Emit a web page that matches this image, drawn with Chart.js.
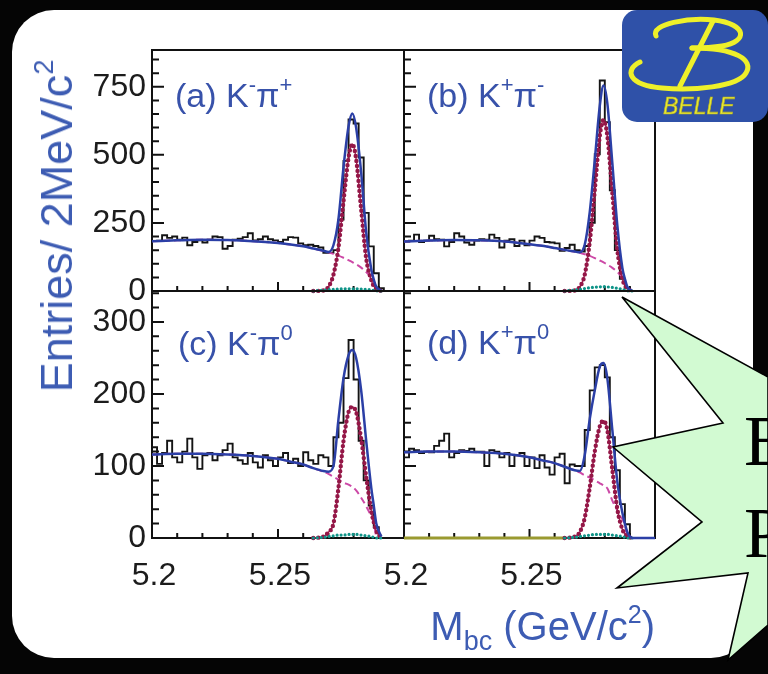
<!DOCTYPE html>
<html><head><meta charset="utf-8">
<script src="https://cdn.jsdelivr.net/npm/chart.js@4.4.1/dist/chart.umd.min.js"></script>
<style>
html,body{margin:0;padding:0;background:#050505;width:768px;height:674px;overflow:hidden;position:relative;}
#box{position:absolute;left:12px;top:10px;width:741px;height:648px;background:#fff;border-radius:42px;}
canvas{position:absolute;left:0;top:0;}
.lbl{position:absolute;font-family:'Liberation Sans',Arial,sans-serif;color:#3852aa;white-space:nowrap;font-size:34px;line-height:34px;}
.lbl .s{font-size:22px;position:relative;top:-15px;}
#ytitle{position:absolute;left:60px;top:226px;transform:translate(-50%,-50%) rotate(-90deg);font-family:'Liberation Sans',Arial,sans-serif;font-size:45px;line-height:45px;color:#3d5cb3;white-space:nowrap;}
#ytitle .s{font-size:27px;position:relative;top:-19px;}
#xtitle{position:absolute;right:113px;top:606px;font-family:'Liberation Sans',Arial,sans-serif;font-size:40px;line-height:40px;color:#3d5cb3;white-space:nowrap;}
#xtitle .sub{font-size:27px;position:relative;top:10px;}
#xtitle .s{font-size:25px;position:relative;top:-17px;}
#over{position:absolute;left:0;top:0;}
.big{position:absolute;left:744px;font-family:'Liberation Serif','DejaVu Serif',serif;font-size:72px;line-height:72px;color:#000;}
</style></head>
<body>
<div id="box"></div>
<canvas id="pa" width="768" height="674" style="width:768px;height:674px"></canvas>
<canvas id="pb" width="768" height="674" style="width:768px;height:674px"></canvas>
<canvas id="pc" width="768" height="674" style="width:768px;height:674px"></canvas>
<canvas id="pd" width="768" height="674" style="width:768px;height:674px"></canvas>

<div class="lbl" style="left:175px;top:78px">(a) K<span class="s">-</span>π<span class="s">+</span></div>
<div class="lbl" style="left:427px;top:78px">(b) K<span class="s">+</span>π<span class="s">-</span></div>
<div class="lbl" style="left:178px;top:326px">(c) K<span class="s">-</span>π<span class="s">0</span></div>
<div class="lbl" style="left:427px;top:325px">(d) K<span class="s">+</span>π<span class="s">0</span></div>
<div id="ytitle">Entries/ 2MeV/c<span class="s">2</span></div>
<div id="xtitle">M<span class="sub">bc</span> (GeV/c<span class="s">2</span>)</div>

<svg id="over" width="768" height="674" viewBox="0 0 768 674">
  <rect x="622" y="10" width="146" height="112" rx="15" ry="15" fill="#2f51a8"/>
  <g fill="none" stroke="#eef02a" stroke-width="5" stroke-linecap="round">
    <path d="M656 36 C650 24 690 17 714 20 C748 24 748 42 722 46 C710 48 700 48 692 48"/>
    <path d="M692 48 C736 48 754 60 746 73 C738 87 692 91 662 88 C628 85 624 70 640 62"/>
    <path d="M713 21 L680 86"/>
  </g>
  <text x="663" y="114" font-family="Liberation Sans, Arial, sans-serif" font-style="italic" font-size="23" fill="#e6e832" stroke="#b8b020" stroke-width="0.6">BELLE</text>
  <polygon points="622,297 723,423 613,447 702,522 617,588 748,573 728,660 768,625 768,377" fill="#d2fad2" stroke="#000" stroke-width="1.6" stroke-linejoin="miter"/>
</svg>
<div class="big" style="top:405px">B</div>
<div class="big" style="top:497px">P</div>

<script>
// ---------- data ----------
const binLowEdges = [5.200,5.202,5.204,5.206,5.208,5.210,5.212,5.214,5.216,5.218,5.220,5.222,5.224,5.226,5.228,5.230,5.232,5.234,5.236,5.238,5.240,5.242,5.244,5.246,5.248,5.250,5.252,5.254,5.256,5.258,5.260,5.262,5.264,5.266,5.268,5.270,5.272,5.274,5.276,5.278,5.280,5.282,5.284,5.286,5.288,5.290,5.292,5.294,5.296,5.298];
const histUpperEdge = 5.300;

const histA = [183,185,205,195,200,188,196,168,180,186,178,188,200,198,155,165,188,192,198,212,186,190,200,190,186,180,188,198,196,175,168,170,165,160,140,140,150,262,478,630,615,490,287,164,65,10,0,0,0,0];
const histB = [182,185,207,180,185,203,190,188,164,180,212,200,178,170,185,190,188,207,195,160,185,190,165,185,168,185,200,195,180,178,175,148,158,170,150,145,165,250,502,773,620,370,150,45,10,0,0,0,0,0];
const histC = [126,103,118,135,112,105,120,138,112,96,115,118,108,115,122,131,112,108,103,118,105,98,115,108,100,112,118,104,110,100,119,108,103,115,112,100,140,160,222,275,220,135,80,45,15,0,0,0,0,0];
const histD = [112,124,122,118,120,119,128,135,145,112,118,122,121,124,120,120,100,122,120,112,118,100,115,118,100,112,97,115,98,88,112,117,76,102,100,100,150,205,237,240,223,140,94,47,19,0,0,0,0,0];

const fitMass = [5.200,5.210,5.220,5.230,5.240,5.250,5.255,5.260,5.264,5.268,5.270,5.272,5.274,5.276,5.278,5.2795,5.281,5.283,5.285,5.287,5.288,5.289,5.291,5.300];

const totalA = [183,186,188,187,183,176,171,164,156,148,143,168,265,455,605,652,600,435,215,80,42,16,0,null];
const bkgA   = [183,186,188,187,183,176,171,164,156,147,142,136,130,122,113,106,98,86,70,50,36,0,null,null];
const sigA   = [null,null,null,null,null,null,null,null,0,2,15,60,160,330,490,540,485,300,120,40,18,8,0,null];
const peakA  = [null,null,null,null,null,null,null,null,0,3,5,6,7,8,8,8,8,7,6,4,2,1,0,null];

const totalB = [182,185,187,186,182,172,166,158,151,145,142,170,290,480,680,755,690,470,240,85,45,15,0,null];
const bkgB   = [182,185,187,186,182,172,166,158,151,144,140,135,129,121,112,105,97,85,70,50,35,0,null,null];
const sigB   = [null,null,null,null,null,null,null,null,0,2,15,60,180,370,570,628,570,360,150,45,20,8,0,null];
const peakB  = [null,null,null,null,null,null,null,null,0,3,6,9,12,14,15,16,15,13,10,6,3,1,0,null];

const totalC = [116,117,117,116,114,110,106,102,97,93,92,100,165,222,254,261,250,205,135,70,45,20,2,null];
const bkgC   = [116,117,117,116,114,110,106,102,97,92,89,85,81,77,74,71,66,56,44,30,21,0,null,null];
const sigC   = [null,null,null,null,null,null,null,null,0,2,8,20,70,135,175,182,175,138,85,38,22,10,0,null];
const peakC  = [null,null,null,null,null,null,null,null,0,1,2,3,4,4,5,5,5,4,3,2,1,0,0,null];

const totalD = [119,120,120,119,117,112,108,104,99,94,93,115,165,205,238,243,222,150,78,35,20,8,0,0];
const bkgD   = [119,120,120,119,117,112,108,104,99,94,91,87,84,80,76,73,69,52,38,26,18,0,null,null];
const sigD   = [null,null,null,null,null,null,null,null,0,2,8,28,70,120,155,163,150,95,40,12,6,2,0,null];
const peakD  = [null,null,null,null,null,null,null,null,0,1,2,3,4,5,5,5,5,4,3,2,1,0,0,null];
const otherD = [0,0,0,0,0,0,0,0,0,null,null,null,null,null,null,null,null,null,null,null,null,null,null,null];

const xTickValues = [5.2, 5.25];
const xTickLabels = ['5.2', '5.25'];
const yTopTickValues = [0, 250, 500, 750];
const yTopTickLabels = ['0', '250', '500', '750'];
const yBotTickValues = [0, 100, 200, 300];
const yBotTickLabels = ['0', '100', '200', '300'];
const yTopMinor = [50,100,150,200,300,350,400,450,550,600,650,700,800,850];
const yBotMinor = [20,40,60,80,120,140,160,180,220,240,260,280,320,340];
const xMinor = [5.21,5.22,5.23,5.24,5.26,5.27,5.28,5.29];
const xMajor = [5.25];

// ---------- drawing ----------
const FONT = "'Liberation Sans', Arial, sans-serif";
const YAXIS_W = 80, XAXIS_H = 70;

const panelFrame = {
  id: 'panelFrame',
  beforeDatasetsDraw(chart, args, o) {
    const {ctx, chartArea: a} = chart;
    const xs = chart.scales.x, ys = chart.scales.y;
    ctx.save();
    ctx.strokeStyle = '#111';
    ctx.lineWidth = 2;
    ctx.beginPath();
    o.yMajor.forEach(v => { const p = ys.getPixelForValue(v); ctx.moveTo(a.left, p); ctx.lineTo(a.left + 12, p); });
    o.yMinor.forEach(v => { const p = ys.getPixelForValue(v); ctx.moveTo(a.left, p); ctx.lineTo(a.left + 7, p); });
    o.xMajor.forEach(v => { const p = xs.getPixelForValue(v); ctx.moveTo(p, a.bottom); ctx.lineTo(p, a.bottom - 9); });
    o.xMinor.forEach(v => { const p = xs.getPixelForValue(v); ctx.moveTo(p, a.bottom); ctx.lineTo(p, a.bottom - 5); });
    ctx.stroke();
    ctx.strokeRect(a.left, a.top, a.right - a.left, a.bottom - a.top);
    ctx.restore();
  }
};

function pts(ys) { return fitMass.map((x, i) => ({x, y: ys[i]})); }
function histPts(h) {
  const p = binLowEdges.map((x, i) => ({x, y: h[i]}));
  p.push({x: histUpperEdge, y: h[h.length - 1]});
  return p;
}

function makePanel(id, area, ymax, hist, total, bkg, sig, peak, other, showX, showY, yVals, yLabels, yMinorV, yMajorV) {
  const ds = [
    {data: pts(total), borderColor: '#2b3fa6', borderWidth: 2.5, cubicInterpolationMode: 'monotone'},
    {data: pts(peak), borderColor: '#0f9488', borderWidth: 3.2, borderDash: [0, 4], borderCapStyle: 'round', cubicInterpolationMode: 'monotone'},
    {data: pts(sig), borderColor: '#941747', borderWidth: 4.4, borderDash: [0, 5], borderCapStyle: 'round', cubicInterpolationMode: 'monotone'},
    {data: pts(sig), borderColor: '#a0204f', borderWidth: 1.3, cubicInterpolationMode: 'monotone'},
    {data: pts(bkg), borderColor: '#cc48a6', borderWidth: 2, borderDash: [7, 4], cubicInterpolationMode: 'monotone'},
    {data: histPts(hist), borderColor: '#141414', borderWidth: 1.9, stepped: true}
  ];
  if (other) ds.push({data: pts(other), borderColor: '#9a9a30', borderWidth: 3});
  ds.forEach(d => { d.pointRadius = 0; d.fill = false; d.clip = 4; d.spanGaps = false; });

  const yw = showY ? YAXIS_W : 0;
  const xh = showX ? XAXIS_H : 0;
  new Chart(document.getElementById(id), {
    type: 'line',
    data: {datasets: ds},
    options: {
      responsive: false, animation: false, devicePixelRatio: 1,
      layout: {padding: {left: area[0] - yw, top: area[1], right: 768 - area[2], bottom: 674 - area[3] - xh}},
      plugins: {
        legend: {display: false}, tooltip: {enabled: false},
        panelFrame: {yMajor: yMajorV, yMinor: yMinorV, xMajor: xMajor, xMinor: xMinor}
      },
      scales: {
        x: {
          type: 'linear', min: 5.2, max: 5.3,
          grid: {display: false, drawTicks: false}, border: {display: false},
          afterBuildTicks: s => { s.ticks = xTickValues.map(v => ({value: v})); },
          afterFit: s => { s.height = xh; },
          ticks: {display: showX, autoSkip: false, maxRotation: 0, minRotation: 0, padding: 19, labelOffset: 2,
                  color: '#1c1c1c', font: {family: FONT, size: 32},
                  callback: (v, i) => xTickLabels[i]}
        },
        y: {
          type: 'linear', min: 0, max: ymax,
          grid: {display: false, drawTicks: false}, border: {display: false},
          afterBuildTicks: s => { s.ticks = yVals.map(v => ({value: v})); },
          afterFit: s => { s.width = yw; },
          ticks: {display: showY, autoSkip: false, padding: 6,
                  color: '#1c1c1c', font: {family: FONT, size: 32},
                  callback: (v, i) => yLabels[i]}
        }
      }
    },
    plugins: [panelFrame]
  });
}

makePanel('pa', [152, 50, 404, 291], 885, histA, totalA, bkgA, sigA, peakA, null, false, true, yTopTickValues, yTopTickLabels, yTopMinor, yTopTickValues);
makePanel('pb', [404, 50, 655, 291], 885, histB, totalB, bkgB, sigB, peakB, null, false, false, yTopTickValues, yTopTickLabels, yTopMinor, yTopTickValues);
makePanel('pc', [152, 291, 404, 538], 343, histC, totalC, bkgC, sigC, peakC, null, true, true, yBotTickValues, yBotTickLabels, yBotMinor, yBotTickValues);
makePanel('pd', [404, 291, 655, 538], 343, histD, totalD, bkgD, sigD, peakD, otherD, true, false, yBotTickValues, yBotTickLabels, yBotMinor, yBotTickValues);
</script>
</body></html>
